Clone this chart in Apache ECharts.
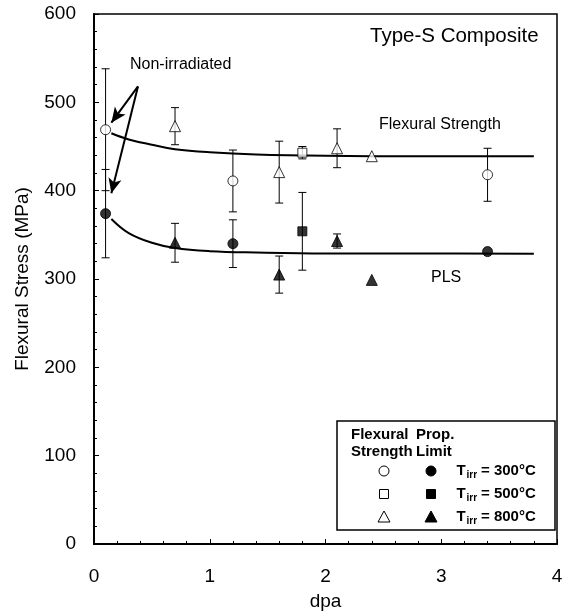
<!DOCTYPE html>
<html>
<head>
<meta charset="utf-8">
<script src="https://cdn.jsdelivr.net/npm/echarts@6/dist/echarts.min.js"></script>
<style>html,body{margin:0;padding:0;background:#fff}#c{width:573px;height:616px}</style>
</head>
<body>
<div id="c"></div>
<script>
// ---- Data ----
// Flexural strength (open symbols)
const fsX300 = [0.1, 1.2, 3.4];
const fsY300 = [469, 411, 418];
const fsE300 = [69, 35, 30];
const fsX500 = [1.8];
const fsY500 = [443];
const fsE500 = [7];
const fsX800 = [0.7, 1.6, 2.1, 2.4];
const fsY800 = [473, 421, 448, 439];
const fsE800 = [21, 35, 22, 0];
// Proportional limit stress (filled symbols)
const plX300 = [0.1, 1.2, 3.4];
const plY300 = [374, 340, 331];
const plE300 = [50, 27, 0];
const plX500 = [1.8];
const plY500 = [354];
const plE500 = [44];
const plX800 = [0.7, 1.6, 2.1, 2.4];
const plY800 = [341, 305, 343, 299];
const plE800 = [22, 21, 8, 0];
// Trend curves
const fitX = [0.15, 0.3, 0.5, 0.7, 1.0, 1.4, 2.0, 2.8, 3.8];
const fitFS = [465, 458, 452, 447, 443.5, 441, 439.5, 439, 439];
const fitPLS = [368, 352, 341, 335, 331.5, 330, 329, 329, 328.5];
// Annotation arrows (data coords)
const arrowStart = [0.38, 518];
const arrowEnds = [[0.15, 477], [0.15, 397]];
// Axis ticks
const xTicks = [0, 1, 2, 3, 4];
const yTicks = [0, 100, 200, 300, 400, 500, 600];

const FONT = '"Liberation Sans", Arial, sans-serif';
const zip3 = (xs, ys, es) => xs.map((x, i) => [x, ys[i], es[i]]);
const zip2 = (xs, ys) => xs.map((x, i) => [x, ys[i]]);

function errSeries(data) {
  return {
    type: 'custom', z: 3, silent: true,
    data: data,
    renderItem: function (params, api) {
      const x = api.value(0), y = api.value(1), e = api.value(2);
      if (!e) return null;
      const t = api.coord([x, y + e]), b = api.coord([x, y - e]);
      const w = 4;
      const st = { stroke: '#000', lineWidth: 1 };
      return {
        type: 'group',
        children: [
          { type: 'line', shape: { x1: t[0], y1: t[1], x2: b[0], y2: b[1] }, style: st },
          { type: 'line', shape: { x1: t[0] - w, y1: t[1], x2: t[0] + w, y2: t[1] }, style: st },
          { type: 'line', shape: { x1: b[0] - w, y1: b[1], x2: b[0] + w, y2: b[1] }, style: st }
        ]
      };
    }
  };
}
function pts(data, symbol, size, filled) {
  return {
    type: 'scatter', z: 5, symbol: symbol, symbolSize: size,
    data: data,
    itemStyle: { color: filled ? '#000' : '#fff', borderColor: '#000', borderWidth: 1 }
  };
}

const chart = echarts.init(document.getElementById('c'), null, { renderer: 'canvas' });

const legendItems = [
  { sym: 'circle', label: '300°C', dy: 471 },
  { sym: 'rect', label: '500°C', dy: 494 },
  { sym: 'triangle', label: '800°C', dy: 517 }
];
const graphics = [
  { type: 'text', left: 370, top: 26, style: { text: 'Type-S Composite', font: '20.5px ' + FONT, fill: '#000' } },
  { type: 'text', left: 379, top: 117, style: { text: 'Flexural Strength', font: '16px ' + FONT, fill: '#000' } },
  { type: 'text', left: 431, top: 270, style: { text: 'PLS', font: '16px ' + FONT, fill: '#000' } },
  { type: 'text', left: 130, top: 57, style: { text: 'Non-irradiated', font: '16px ' + FONT, fill: '#000' } },
  { type: 'rect', shape: { x: 337, y: 421, width: 218, height: 109 }, style: { fill: '#fff', stroke: '#000', lineWidth: 1.5 }, z: 10 },
  { type: 'text', x: 351, y: 427, z: 11, style: { text: 'Flexural', font: 'bold 15px ' + FONT, fill: '#000' } },
  { type: 'text', x: 351, y: 444, z: 11, style: { text: 'Strength', font: 'bold 15px ' + FONT, fill: '#000' } },
  { type: 'text', x: 416, y: 427, z: 11, style: { text: 'Prop.', font: 'bold 15px ' + FONT, fill: '#000' } },
  { type: 'text', x: 416, y: 444, z: 11, style: { text: 'Limit', font: 'bold 15px ' + FONT, fill: '#000' } }
];
legendItems.forEach(function (it) {
  const mk = function (cx, filled) {
    const st = { fill: filled ? '#000' : '#fff', stroke: '#000', lineWidth: 1 };
    if (it.sym === 'circle') return { type: 'circle', z: 11, shape: { cx: cx, cy: it.dy, r: 5 }, style: st };
    if (it.sym === 'rect') return { type: 'rect', z: 11, shape: { x: cx - 4.5, y: it.dy - 4.5, width: 9, height: 9 }, style: st };
    return { type: 'polygon', z: 11, shape: { points: [[cx, it.dy - 6], [cx + 6, it.dy + 5], [cx - 6, it.dy + 5]] }, style: st };
  };
  graphics.push(mk(384, false));
  graphics.push(mk(431, true));
  graphics.push({ type: 'text', x: 456.5, y: it.dy - 8, z: 11, style: { text: 'T', font: 'bold 15px ' + FONT, fill: '#000' } });
  graphics.push({ type: 'text', x: 466.5, y: it.dy - 1, z: 11, style: { text: 'irr', font: 'bold 10px ' + FONT, fill: '#000' } });
  graphics.push({ type: 'text', x: 481, y: it.dy - 8, z: 11, style: { text: '= ' + it.label, font: 'bold 15px ' + FONT, fill: '#000' } });
});

const option = {
  backgroundColor: '#fff',
  animation: false,
  textStyle: { fontFamily: FONT, color: '#000' },
  grid: { left: 94, right: 16, top: 14, bottom: 68, show: true, borderColor: '#000', borderWidth: 1.5, backgroundColor: 'transparent' },
  xAxis: {
    type: 'value', min: xTicks[0], max: xTicks[xTicks.length - 1], interval: 1,
    name: 'dpa', nameLocation: 'middle', nameGap: 48,
    nameTextStyle: { fontSize: 19, color: '#000', fontFamily: FONT },
    axisLine: { show: true, onZero: false, lineStyle: { color: '#000', width: 2 } },
    axisTick: { show: true, inside: true, length: 5, lineStyle: { color: '#000', width: 1 } },
    minorTick: { show: true, splitNumber: 5, length: 3, lineStyle: { color: '#000', width: 1 } },
    splitLine: { show: false },
    axisLabel: { fontSize: 19, color: '#000', margin: 23, fontFamily: FONT }
  },
  yAxis: {
    type: 'value', min: yTicks[0], max: yTicks[yTicks.length - 1], interval: 100,
    name: 'Flexural Stress (MPa)', nameLocation: 'middle', nameGap: 62,
    nameTextStyle: { fontSize: 19, color: '#000', fontFamily: FONT },
    axisLine: { show: true, onZero: false, lineStyle: { color: '#000', width: 2 } },
    axisTick: { show: true, inside: true, length: 5, lineStyle: { color: '#000', width: 1 } },
    minorTick: { show: true, splitNumber: 5, length: 3, lineStyle: { color: '#000', width: 1 } },
    splitLine: { show: false },
    axisLabel: { fontSize: 19, color: '#000', margin: 18, fontFamily: FONT }
  },
  graphic: graphics,
  series: [
    {
      type: 'line', z: 2, smooth: 0.4, symbol: 'none', silent: true,
      data: zip2(fitX, fitFS), lineStyle: { color: '#000', width: 2 },
      markLine: {
        silent: true, symbol: ['none', 'arrow'], symbolSize: [10, 15],
        label: { show: false },
        lineStyle: { color: '#000', width: 2, type: 'solid' },
        data: arrowEnds.map(function (e) {
          return [{ coord: arrowStart, symbol: 'none' }, { coord: e, symbol: 'arrow', symbolSize: [10, 15] }];
        })
      }
    },
    { type: 'line', z: 2, smooth: 0.4, symbol: 'none', silent: true, data: zip2(fitX, fitPLS), lineStyle: { color: '#000', width: 2 } },
    errSeries(zip3(fsX300, fsY300, fsE300)),
    errSeries(zip3(fsX500, fsY500, fsE500)),
    errSeries(zip3(fsX800, fsY800, fsE800)),
    errSeries(zip3(plX300, plY300, plE300)),
    errSeries(zip3(plX500, plY500, plE500)),
    errSeries(zip3(plX800, plY800, plE800)),
    pts(zip2(fsX300, fsY300), 'circle', 10, false),
    pts(zip2(fsX500, fsY500), 'rect', 9, false),
    pts(zip2(fsX800, fsY800), 'triangle', 11, false),
    pts(zip2(plX300, plY300), 'circle', 10, true),
    pts(zip2(plX500, plY500), 'rect', 9, true),
    pts(zip2(plX800, plY800), 'triangle', 11, true)
  ]
};
chart.setOption(option);
</script>
</body>
</html>
